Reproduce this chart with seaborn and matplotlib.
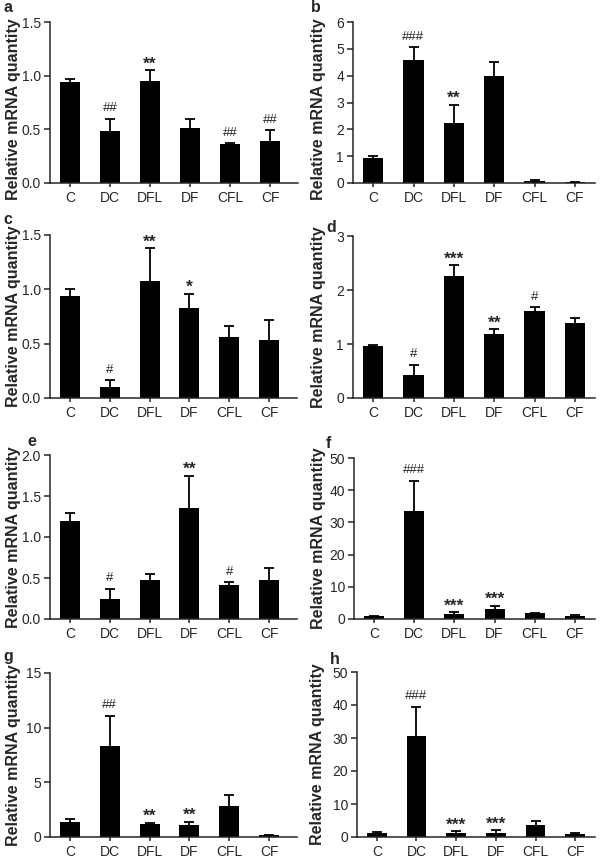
"""
Relative mRNA quantity per group, eight panels (a-h), bar + upper SEM whisker.
"""
import matplotlib
matplotlib.use("Agg")
import matplotlib.pyplot as plt
import seaborn as sns
import pandas as pd

# ── Data ──────────────────────────────────────────────────────────────────────
GROUPS = ["C", "DC", "DFL", "DF", "CFL", "CF"]

a_mean = [0.94, 0.48, 0.95, 0.51, 0.36, 0.39]
a_sem  = [0.03, 0.12, 0.10, 0.09, 0.015, 0.10]
a_sig  = ["", "##", "**", "", "##", "##"]

b_mean = [0.92, 4.58, 2.25, 3.97, 0.08, 0.02]
b_sem  = [0.08, 0.50, 0.67, 0.55, 0.04, 0.03]
b_sig  = ["", "###", "**", "", "", ""]

c_mean = [0.94, 0.10, 1.08, 0.83, 0.56, 0.53]
c_sem  = [0.06, 0.065, 0.30, 0.13, 0.10, 0.19]
c_sig  = ["", "#", "**", "*", "", ""]

d_mean = [0.97, 0.42, 2.26, 1.18, 1.62, 1.38]
d_sem  = [0.02, 0.20, 0.20, 0.09, 0.06, 0.10]
d_sig  = ["", "#", "***", "**", "#", ""]

e_mean = [1.19, 0.25, 0.47, 1.35, 0.42, 0.48]
e_sem  = [0.10, 0.12, 0.08, 0.40, 0.03, 0.14]
e_sig  = ["", "#", "", "**", "#", ""]

f_mean = [0.8, 33.5, 1.6, 3.1, 1.8, 0.9]
f_sem  = [0.2, 9.5, 0.5, 1.0, 0.2, 0.4]
f_sig  = ["", "###", "***", "***", "", ""]

g_mean = [1.4, 8.3, 1.2, 1.1, 2.8, 0.15]
g_sem  = [0.25, 2.8, 0.1, 0.3, 1.0, 0.07]
g_sig  = ["", "##", "**", "**", "", ""]

h_mean = [1.2, 30.5, 1.3, 1.2, 3.6, 1.0]
h_sem  = [0.3, 9.0, 0.5, 0.9, 1.1, 0.2]
h_sig  = ["", "###", "***", "***", "", ""]

YTICKS = {
    "a": [0, 0.5, 1.0, 1.5], "b": [0, 1, 2, 3, 4, 5, 6],
    "c": [0, 0.5, 1.0, 1.5], "d": [0, 1, 2, 3],
    "e": [0, 0.5, 1.0, 1.5, 2.0], "f": [0, 10, 20, 30, 40, 50],
    "g": [0, 5, 10, 15], "h": [0, 10, 20, 30, 40, 50],
}
PANELS = {
    "a": (a_mean, a_sem, a_sig), "b": (b_mean, b_sem, b_sig),
    "c": (c_mean, c_sem, c_sig), "d": (d_mean, d_sem, d_sig),
    "e": (e_mean, e_sem, e_sig), "f": (f_mean, f_sem, f_sig),
    "g": (g_mean, g_sem, g_sig), "h": (h_mean, h_sem, h_sig),
}

# ── Layout (pixels in a 609x858 canvas) ──────────────────────────────────────
W, H = 609, 858
# (axes left, axes right, y of top tick, y of zero, letter x, letter y)
BOXES = {
    "a": (50, 298, 22, 183, 3, 8),
    "b": (353, 595, 22, 183, 311, 8),
    "c": (50, 297, 235, 398, 3, 220),
    "d": (353, 595, 236, 398, 326, 228),
    "e": (50, 297, 455, 619, 27, 442),
    "f": (354, 595, 458, 619, 326, 444),
    "g": (50, 297, 673, 837, 3, 656),
    "h": (357, 595, 672, 837, 330, 660),
}

sns.set_style("ticks")
plt.rcParams["font.family"] = ["Liberation Sans", "DejaVu Sans"]

fig = plt.figure(figsize=(W / 100, H / 100), dpi=100)

for key, (mean, sem, sig) in PANELS.items():
    x0, x1, ytop, yzero, lx, ly = BOXES[key]
    ax = fig.add_axes([x0 / W, 1 - yzero / H, (x1 - x0) / W, (yzero - ytop) / H])

    df = pd.DataFrame({"group": GROUPS, "value": mean})
    sns.barplot(data=df, x="group", y="value", color="black", saturation=1,
                width=0.5, errorbar=None, linewidth=0, ax=ax)

    # upward whisker only, cap at the top end
    xs = list(range(len(GROUPS)))
    tops = [m + s for m, s in zip(mean, sem)]
    ax.errorbar(xs, tops, yerr=[sem, [0] * len(sem)], fmt="none",
                ecolor="black", elinewidth=1.3, capsize=0)
    ax.scatter(xs, tops, marker="_", s=45, color="black", linewidths=1.3, zorder=3)

    span = YTICKS[key][-1]
    for xi, t, lab in zip(xs, tops, sig):
        if not lab:
            continue
        if "*" in lab:
            ax.annotate(lab, (xi, t), xytext=(0, -1), textcoords="offset points",
                        ha="center", va="bottom", fontsize=12.5, fontweight="bold")
        else:
            ax.annotate(lab, (xi, t), xytext=(0, 3), textcoords="offset points",
                        ha="center", va="bottom", fontsize=9.5)

    ax.set_ylim(0, span)
    ax.set_yticks(YTICKS[key])
    if isinstance(YTICKS[key][1], float):
        ax.set_yticklabels([f"{t:.1f}" for t in YTICKS[key]])
    right = 5.7 if x0 < 200 else 5.5
    ax.set_xlim(-0.5, right)
    ax.set_xlabel("")
    ax.set_ylabel("Relative mRNA quantity", fontsize=11.5, fontweight="bold")
    lab_x = 14 if x0 < 200 else 318
    lab_y = 0.46 if ytop < 100 else 0.5   # top row: keep clear of the letters
    ax.yaxis.set_label_coords((lab_x - x0) / (x1 - x0), lab_y)
    ax.yaxis.label.set_verticalalignment("center")
    ax.tick_params(axis="both", labelsize=10, width=1.1, length=4,
                   direction="out", pad=2.5)
    ax.tick_params(axis="x", length=3)
    for sp in ("left", "bottom"):
        ax.spines[sp].set_linewidth(1.1)
    sns.despine(ax=ax)

    fig.text(lx / W, 1 - ly / H, key, fontsize=11.5, fontweight="bold",
             ha="left", va="center")

fig.savefig("out.png", dpi=100)
